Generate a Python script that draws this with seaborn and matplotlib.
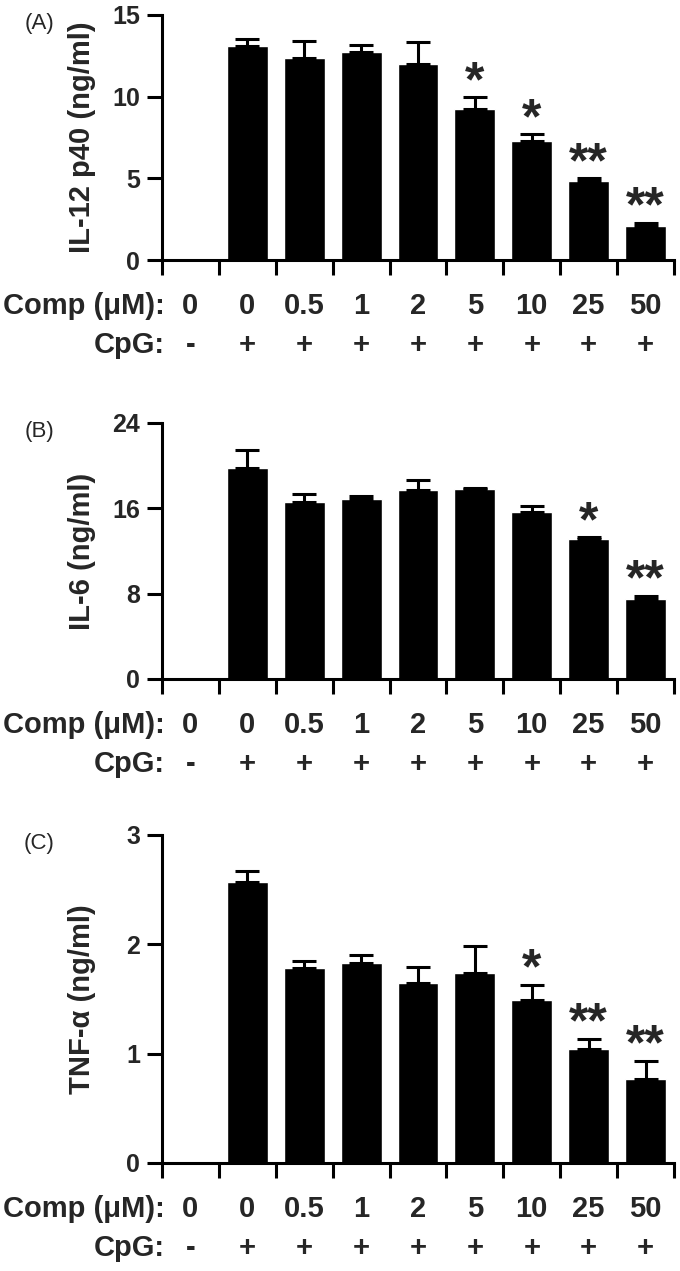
"""
Cytokine release after CpG stimulation with increasing compound dose.
Three stacked bar panels (IL-12 p40, IL-6, TNF-a), Prism style.
"""

import matplotlib
matplotlib.use("Agg")
import matplotlib.pyplot as plt
import numpy as np
import pandas as pd
import seaborn as sns

# shared x layout: first group is the unstimulated control
comp_labels = ["0", "0", "0.5", "1", "2", "5", "10", "25", "50"]
cpg_labels = ["-", "+", "+", "+", "+", "+", "+", "+", "+"]

# (A) IL-12 p40, ng/ml
il12_mean = [0, 13.1, 12.38, 12.75, 12.03, 9.27, 7.26, 4.85, 2.11]
il12_sem = [0, 0.45, 1.0, 0.39, 1.33, 0.68, 0.45, 0.16, 0.18]
il12_stars = ["", "", "", "", "", "*", "*", "**", "**"]

# (B) IL-6, ng/ml
il6_mean = [0, 19.79, 16.55, 16.83, 17.70, 17.77, 15.62, 13.09, 7.54]
il6_sem = [0, 1.71, 0.84, 0.34, 1.0, 0.15, 0.59, 0.22, 0.28]
il6_stars = ["", "", "", "", "", "", "", "*", "**"]

# (C) TNF-a, ng/ml
tnf_mean = [0, 2.574, 1.782, 1.827, 1.648, 1.736, 1.489, 1.039, 0.771]
tnf_sem = [0, 0.10, 0.07, 0.077, 0.146, 0.253, 0.141, 0.097, 0.164]
tnf_stars = ["", "", "", "", "", "", "*", "**", "**"]

W, H = 680, 1271
PX = 0.72  # points per pixel at dpi 100
LW = 2.2

sns.set_theme(style="ticks")
plt.rcParams["font.family"] = ["Liberation Sans", "DejaVu Sans"]
plt.rcParams["font.weight"] = "bold"
plt.rcParams["axes.labelweight"] = "bold"


def panel(fig, top, bottom, means, sems, stars, ylabel, yticks, letter):
    ax = fig.add_axes([162 / W, 1 - bottom / H, 512 / W, (bottom - top) / H])
    df = pd.DataFrame({"pos": range(len(means)), "value": means})
    sns.barplot(data=df, x="pos", y="value", color="black", width=0.72,
                errorbar=None, ax=ax, saturation=1)
    pos = np.arange(len(means))
    ax.errorbar(pos[1:], means[1:], yerr=[np.zeros(len(means) - 1), sems[1:]],
                fmt="none", ecolor="black", elinewidth=LW, capsize=8.3,
                capthick=LW)
    for i, s in enumerate(stars):
        if s:
            ax.annotate(s, xy=(i, means[i] + sems[i]), xytext=(0, 14 * PX),
                        textcoords="offset points", ha="center", va="center",
                        fontsize=36, fontweight="bold")

    ax.set_xlim(-0.5, len(means) - 0.5)
    ax.set_ylim(yticks[0], yticks[-1])
    ax.set_yticks(yticks)
    ax.set_xticks(np.arange(-0.5, len(means), 1))
    ax.set_xticklabels([])
    ax.tick_params(axis="both", width=LW, length=15 * PX, labelsize=18,
                   pad=5, color="black")
    for side in ["top", "right"]:
        ax.spines[side].set_visible(False)
    for side in ["left", "bottom"]:
        ax.spines[side].set_linewidth(LW)
        ax.spines[side].set_color("black")

    ax.set_xlabel("")
    ax.set_ylabel(ylabel, fontsize=21, fontweight="bold")
    ax.yaxis.set_label_coords(-66 / 512, 0.5)

    # dose / stimulus rows under the axis
    for i, (c, g) in enumerate(zip(comp_labels, cpg_labels)):
        ax.annotate(c, xy=(i, 0), xycoords=("data", "axes fraction"),
                    xytext=(0, -46 * PX), textcoords="offset points",
                    ha="center", va="center", fontsize=21)
        ax.annotate(g, xy=(i, 0), xycoords=("data", "axes fraction"),
                    xytext=(0, -85 * PX), textcoords="offset points",
                    ha="center", va="center", fontsize=21)
    ax.annotate("Comp (μM):", xy=(0, 0), xycoords="axes fraction",
                xytext=(3 * PX, -46 * PX), textcoords="offset points",
                ha="right", va="center", fontsize=21)
    ax.annotate("CpG:", xy=(0, 0), xycoords="axes fraction",
                xytext=(3 * PX, -85 * PX), textcoords="offset points",
                ha="right", va="center", fontsize=21)

    fig.text(39 / W, 1 - (top + 9) / H, letter, ha="center", va="center",
             fontsize=16, fontweight="normal")
    return ax


fig = plt.figure(figsize=(W / 100, H / 100), dpi=100)
panel(fig, 15, 260, il12_mean, il12_sem, il12_stars,
      "IL-12 p40 (ng/ml)", [0, 5, 10, 15], "(A)")
panel(fig, 423, 679, il6_mean, il6_sem, il6_stars,
      "IL-6 (ng/ml)", [0, 8, 16, 24], "(B)")
panel(fig, 835, 1163, tnf_mean, tnf_sem, tnf_stars,
      "TNF-α (ng/ml)", [0, 1, 2, 3], "(C)")

fig.savefig("out.png", dpi=100)
